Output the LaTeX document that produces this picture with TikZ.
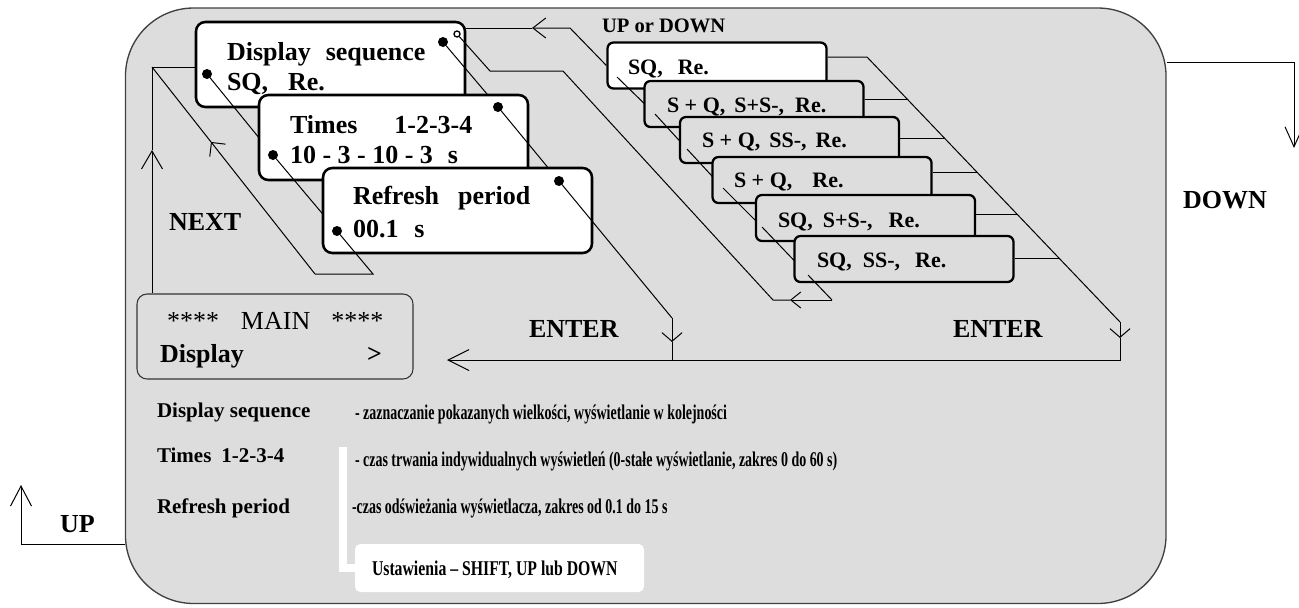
\documentclass[tikz,border=0pt]{standalone}
\usepackage{fontspec}
\setmainfont{Liberation Serif}
\newfontfamily\narrowserif[FakeStretch=0.665]{Liberation Serif}
\newfontfamily\ustserif[FakeStretch=0.75]{Liberation Serif}
\usetikzlibrary{arrows.meta,calc}
\definecolor{panelgray}{RGB}{221,221,221}
\newdimen\pxu
\pxu=0.75pt
\newcommand\gp[1]{\hspace{#1\pxu}}

\tikzset{
  conn/.style={draw=black, line width=0.75pt},
  panelbox/.style={draw=black!75, line width=1pt, fill=panelgray, rounded corners=51pt,
    minimum width=780.4pt, minimum height=446.6pt, inner sep=0pt},
  lbox/.style={draw=black, line width=1.9pt, fill=white, rounded corners=7pt,
    minimum width=201.75pt, minimum height=63.75pt, inner sep=0pt},
  rbox/.style={draw=black, line width=1.7pt, fill=panelgray, rounded corners=4.5pt,
    minimum width=164.25pt, minimum height=34.5pt, inner sep=0pt},
  mainbox/.style={draw=black!80, line width=0.8pt, fill=panelgray, rounded corners=7.5pt,
    minimum width=207pt, minimum height=63.75pt, inner sep=0pt},
  ustbox/.style={fill=white, rounded corners=4pt, minimum width=216.75pt,
    minimum height=36pt, inner sep=0pt},
  dot/.style={circle, fill=black, inner sep=0pt, minimum size=7.5pt},
  hole/.style={circle, draw=black, line width=1pt, fill=white, inner sep=0pt, minimum size=4.5pt},
  txt/.style={anchor=base west, inner sep=0pt, outer sep=0pt},
  boxtxt/.style={txt, font=\fontsize{19.5pt}{20pt}\selectfont\bfseries},
  stacktxt/.style={txt, font=\fontsize{16.5pt}{17pt}\selectfont\bfseries},
  keytxt/.style={txt, font=\fontsize{19.5pt}{20pt}\selectfont\bfseries},
  smallkey/.style={txt, font=\fontsize{15.4pt}{16pt}\selectfont\bfseries},
  desctxt/.style={txt, font=\fontsize{15.75pt}{16pt}\selectfont\bfseries},
  notetxt/.style={txt, font=\narrowserif\fontsize{15.75pt}{16pt}\selectfont\bfseries},
  usttxt/.style={txt, font=\ustserif\fontsize{15.75pt}{16pt}\selectfont\bfseries},
  tNx/.tip={Straight Barb[length=13.5pt,width=15.75pt]},
  tDg/.tip={Straight Barb[length=7.5pt,width=15pt]},
  tTop/.tip={Straight Barb[length=9.75pt,width=15pt]},
  tEn/.tip={Straight Barb[length=6.5pt,width=15pt]},
  tMain/.tip={Straight Barb[length=15.75pt,width=15.75pt]},
  tLp/.tip={Straight Barb[length=7.5pt,width=12pt]},
  tUp/.tip={Straight Barb[length=15pt,width=15.75pt]},
  tDn/.tip={Straight Barb[length=15pt,width=13.5pt]},
}

\begin{document}
\begin{tikzpicture}[x=0.75pt,y=-0.75pt]
\useasboundingbox (0,0) rectangle (1299,607);

% grey panel
\node[panelbox] (panel) at (645.75,305.75) {};

% route points
\coordinate (nxTop) at (152,67);
\coordinate (nxArr) at (152,150);
\coordinate (rr1) at (373,274);
\coordinate (rr2) at (315,274);
\coordinate (tl1) at (570,28);
\coordinate (tlArr) at (532,28);
\coordinate (lp1) at (832,300);
\coordinate (lpArr) at (790,300);
\coordinate (lp2) at (773,300);
\coordinate (lp3) at (563,71);
\coordinate (lp4) at (490,71);
\coordinate (bd0) at (867,57);
\coordinate (bd1) at (1120,322);
\coordinate (bdArr) at (1120,338);
\coordinate (bd2) at (1120,360);
\coordinate (mainIn) at (447,360);
\coordinate (e1) at (672,318);
\coordinate (eArr) at (672,342);
\coordinate (up0) at (21,544);
\coordinate (up1) at (21,485);
\coordinate (dn0) at (1294,62);
\coordinate (dn1) at (1294,148);
\coordinate (wb0) at (343,447);
% marker points of the left menu cards
\coordinate (dsLc) at (207,74);
\coordinate (dsRc) at (443,42);
\coordinate (tmLc) at (273,155);
\coordinate (tmRc) at (498,107);
\coordinate (rpLc) at (337,231);
\coordinate (rpRc) at (559,181);
% chain points of the option stack
\coordinate (p1) at (617,77);
\coordinate (p2) at (655,114);
\coordinate (p3) at (687,149);
\coordinate (p4) at (723,188);
\coordinate (p5) at (762,227);
\coordinate (p6) at (808,275);

% main menu box
\node[mainbox] (main) at (275,336.5) {};
\node[txt, font=\fontsize{19.5pt}{20pt}\selectfont] (mainT1) at (167,329) {****\gp{22}MAIN\gp{21}****};
\node[keytxt] (mainT2) at (160,362) {Display};
\node[keytxt] (mainT3) at (367,362) {>};

% NEXT loop, upward branch
\draw[conn,-{tNx}] (nxTop |- main.north) -- (nxArr);

% card 1: display sequence
\node[lbox] (ds) at (330.5,64.5) {};
\node[boxtxt] (dsT1) at (227,60) {Display\gp{15}sequence};
\node[boxtxt] (dsT2) at (227,90) {SQ,\gp{20}Re.};
\node[dot] (dsL) at (dsLc) {};
\node[dot] (dsR) at (dsRc) {};
\node[hole] (hol) at (457,34) {};
\draw[conn] (nxArr) -- (nxTop) -- (nxTop -| ds.west);
\draw[conn] (dsL) -- (tmLc);
\draw[conn] (dsR) -- (tmRc);

% card 2: times
\node[lbox] (tm) at (393.5,137.5) {};
\node[boxtxt] (tmT1) at (290,133) {Times\gp{37}1-2-3-4};
\node[boxtxt] (tmT2) at (290,163) {10 - 3 - 10 - 3\gp{15}s};
\node[dot] (tmL) at (tmLc) {};
\node[dot] (tmR) at (tmRc) {};
\draw[conn] (tmL) -- (rpLc);
\draw[conn] (tmR) -- (rpRc);

% card 3: refresh period
\node[lbox] (rp) at (457.5,210.5) {};
\node[boxtxt] (rpT1) at (353,204) {Refresh\gp{19}period};
\node[boxtxt] (rpT2) at (353,237) {00.1\gp{16}s};
\node[dot] (rpL) at (rpLc) {};
\node[dot] (rpR) at (rpRc) {};

% NEXT loop, return branch
\draw[conn] (rpL) -- (rr1) -- (rr2);
\draw[conn,-{tDg}] (rr2) -- ($(rr2)!0.638!(nxTop)$);
\draw[conn] ($(rr2)!0.638!(nxTop)$) -- (nxTop);

% option stack
\node[rbox, fill=white] (rb1) at (717,65.5) {};
\node[stacktxt] (rbT1) at (628,74) {SQ,\gp{15}Re.};
\draw[conn] (p1) -- (p2);
\node[rbox] (rb2) at (754,104) {};
\node[stacktxt] (rbT2) at (667,112) {S + Q,\gp{9}S+S-,\gp{11}Re.};
\draw[conn] (p2) -- (p3);
\node[rbox] (rb3) at (789.5,140) {};
\node[stacktxt] (rbT3) at (702,147) {S + Q,\gp{9}SS-,\gp{9}Re.};
\draw[conn] (p3) -- (p4);
\node[rbox] (rb4) at (822,180) {};
\node[stacktxt] (rbT4) at (734,187) {S + Q,\gp{20}Re.};
\draw[conn] (p4) -- (p5);
\node[rbox] (rb5) at (865.5,218) {};
\node[stacktxt] (rbT5) at (778,227) {SQ,\gp{10}S+S-,\gp{16}Re.};
\draw[conn] (p5) -- (p6);
\node[rbox] (rb6) at (904,259) {};
\node[stacktxt] (rbT6) at (817,267) {SQ,\gp{11}SS-,\gp{15}Re.};

% UP or DOWN loop through the options
\draw[conn,-{tTop}] (rb1.west) -- (tl1) -- (tlArr);
\draw[conn] (tlArr) -- (tl1 -| ds.east);
\draw[conn] (p6) -- (lp1);
\draw[conn,-{tLp}] (lp1) -- (lpArr);
\draw[conn] (lpArr) -- (lp2) -- (lp3) -- (lp4) -- (hol);

% ENTER from the option stack
\coordinate (j2) at ($(bd0)!0.1585!(bd1)$);
\coordinate (j3) at ($(bd0)!0.3057!(bd1)$);
\coordinate (j4) at ($(bd0)!0.4377!(bd1)$);
\coordinate (j5) at ($(bd0)!0.5962!(bd1)$);
\coordinate (j6) at ($(bd0)!0.7585!(bd1)$);
\draw[conn] (rb1.east |- bd0) -- (bd0) -- (bd1);
\draw[conn] (rb2.east |- j2) -- (j2);
\draw[conn] (rb3.east |- j3) -- (j3);
\draw[conn] (rb4.east |- j4) -- (j4);
\draw[conn] (rb5.east |- j5) -- (j5);
\draw[conn] (rb6.east |- j6) -- (j6);
\draw[conn,-{tEn}] (bd1) -- (bdArr);
\draw[conn,-{tMain}] (bdArr) -- (bd2) -- (mainIn);

% ENTER from the cards
\draw[conn] (rpR) -- (e1);
\draw[conn,-{tEn}] (e1) -- (eArr);
\draw[conn] (eArr) -- (e1 |- bd2);

% UP and DOWN outside the panel
\draw[conn,-{tUp}] (up0 -| panel.west) -- (up0) -- (up1);
\draw[conn,-{tDn}] (dn0 -| panel.east) -- (dn0) -- (dn1);

% key labels
\node[keytxt] (kNext) at (169,230) {NEXT};
\node[smallkey] (kUpDown) at (602,32) {UP or DOWN};
\node[keytxt] (kDown) at (1183,208) {DOWN};
\node[keytxt] (kEnter1) at (529,337) {ENTER};
\node[keytxt] (kEnter2) at (953,337) {ENTER};
\node[keytxt] (kUp) at (60,532) {UP};

% legend
\node[desctxt] (dL1) at (157,417) {Display sequence};
\node[desctxt] (dL2) at (157,462) {Times\gp{10}1-2-3-4};
\node[desctxt] (dL3) at (157,513) {Refresh period};
\node[notetxt] (dN1) at (355,419) {- zaznaczanie pokazanych wielkości, wyświetlanie w kolejności};
\node[notetxt] (dN2) at (355,466) {- czas trwania indywidualnych wyświetleń (0-stałe wyświetlanie, zakres 0 do 60 s)};
\node[notetxt] (dN3) at (352,513) {-czas odświeżania wyświetlacza, zakres od 0.1 do 15 s};

% settings note
\node[ustbox] (ust) at (499.5,568) {};
\draw[white, line width=5.5pt] (wb0) |- (ust.west);
\node[usttxt] (ustT) at (372,575) {Ustawienia – SHIFT, UP lub DOWN};
\end{tikzpicture}
\end{document}
